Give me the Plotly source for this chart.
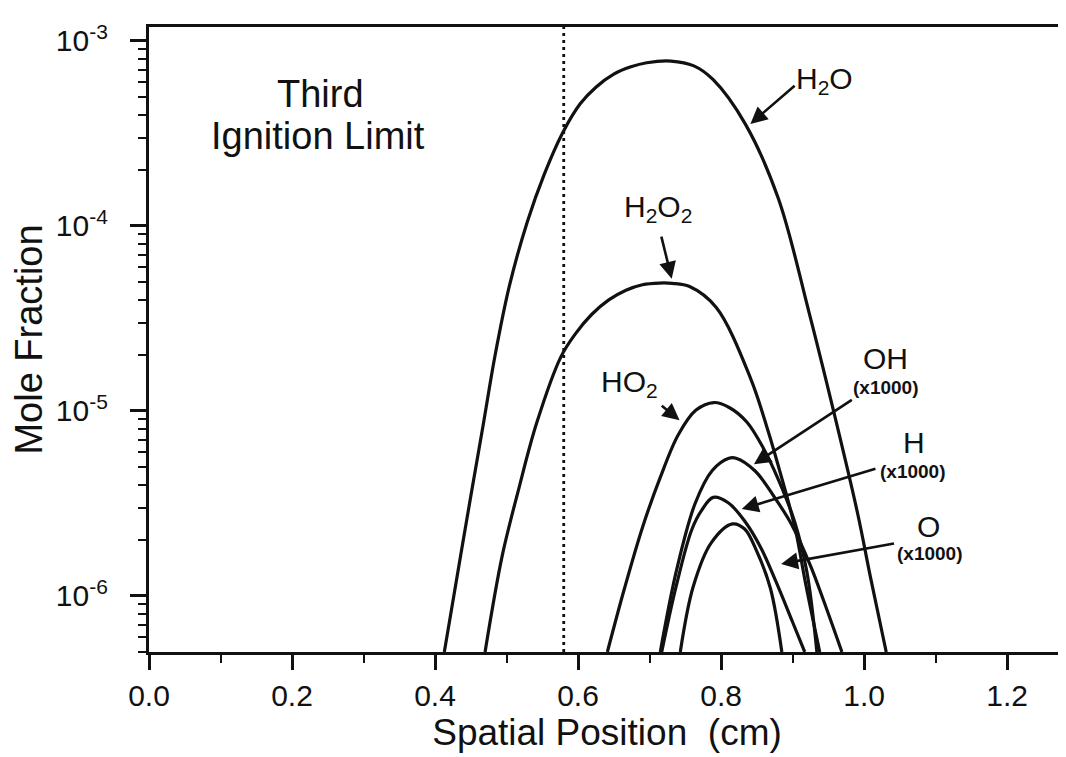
import plotly.graph_objects as go

# ---------------- data ----------------
h2o_x = [0.413, 0.436, 0.452, 0.468, 0.484, 0.504, 0.529, 0.553, 0.578, 0.603, 0.625, 0.650,
         0.674, 0.696, 0.730, 0.762, 0.789, 0.834, 0.880, 0.923, 0.958, 0.991, 1.009, 1.031]
h2o_y = [4.98e-7, 1.67e-6, 3.83e-6, 8.69e-6, 2.0e-5, 4.74e-5, 1.05e-4, 1.91e-4, 3.16e-4, 4.57e-4,
         5.62e-4, 6.61e-4, 7.24e-4, 7.62e-4, 7.78e-4, 7.33e-4, 6.17e-4, 3.55e-4, 1.41e-4, 3.41e-5,
         9.75e-6, 2.79e-6, 1.26e-6, 4.98e-7]

h2o2_x = [0.470, 0.494, 0.517, 0.542, 0.576, 0.596, 0.619, 0.643, 0.667, 0.690, 0.714, 0.732,
          0.756, 0.793, 0.841, 0.866, 0.881, 0.894, 0.905, 0.918, 0.938]
h2o2_y = [4.98e-7, 1.65e-6, 3.78e-6, 8.57e-6, 1.96e-5, 2.60e-5, 3.32e-5, 3.98e-5, 4.49e-5, 4.81e-5,
          4.91e-5, 4.89e-5, 4.70e-5, 3.63e-5, 1.51e-5, 7.74e-6, 4.90e-6, 3.24e-6, 2.19e-6, 1.18e-6,
          4.98e-7]

ho2_x = [0.641, 0.665, 0.690, 0.715, 0.740, 0.765, 0.790, 0.812, 0.836, 0.859, 0.880, 0.903,
         0.920, 0.934]
ho2_y = [4.98e-7, 1.10e-6, 2.34e-6, 4.37e-6, 7.41e-6, 1.01e-5, 1.11e-5, 1.04e-5, 8.71e-6, 6.31e-6,
         4.27e-6, 2.51e-6, 1.35e-6, 4.98e-7]

oh_x = [0.715, 0.738, 0.764, 0.788, 0.811, 0.821, 0.848, 0.876, 0.899, 0.925, 0.943, 0.969]
oh_y = [4.98e-7, 1.39e-6, 3.18e-6, 4.78e-6, 5.55e-6, 5.55e-6, 4.72e-6, 3.36e-6, 2.42e-6, 1.46e-6,
        9.53e-7, 4.98e-7]

h_x = [0.717, 0.737, 0.759, 0.773, 0.789, 0.810, 0.833, 0.856, 0.877, 0.900, 0.917]
h_y = [4.98e-7, 1.12e-6, 2.28e-6, 2.91e-6, 3.41e-6, 3.19e-6, 2.54e-6, 1.81e-6, 1.19e-6, 7.23e-7,
       4.98e-7]

o_x = [0.743, 0.761, 0.786, 0.816, 0.833, 0.850, 0.869, 0.885]
o_y = [4.98e-7, 1.12e-6, 1.93e-6, 2.45e-6, 2.30e-6, 1.74e-6, 1.10e-6, 4.98e-7]

ignition_limit_x = 0.58

x_tick_vals = [0.0, 0.2, 0.4, 0.6, 0.8, 1.0, 1.2]
x_tick_text = ["0.0", "0.2", "0.4", "0.6", "0.8", "1.0", "1.2"]
y_tick_vals = [1e-6, 1e-5, 1e-4, 1e-3]
y_tick_text = ["10<sup>-6</sup>", "10<sup>-5</sup>", "10<sup>-4</sup>", "10<sup>-3</sup>"]

# label texts with positions (x in cm, y as log10 of mole fraction)
labels = [
    ("Third", 0.240, -3.285, 38, False),
    ("Ignition Limit", 0.236, -3.515, 38, False),
    ("H<sub>2</sub>O", 0.945, -3.215, 30, False),
    ("H<sub>2</sub>O<sub>2</sub>", 0.712, -3.905, 30, False),
    ("HO<sub>2</sub>", 0.672, -4.850, 30, False),
    ("OH", 1.030, -4.715, 30, False),
    ("(x1000)", 1.031, -4.875, 19, True),
    ("H", 1.070, -5.170, 30, False),
    ("(x1000)", 1.069, -5.325, 19, True),
    ("O", 1.090, -5.625, 30, False),
    ("(x1000)", 1.092, -5.770, 19, True),
]
# arrows: (tail x, tail log y, head x, head log y)
arrows = [
    (0.905, -3.235, 0.841, -3.449),
    (0.716, -4.050, 0.731, -4.285),
    (0.715, -4.965, 0.742, -5.050),
    (0.985, -4.935, 0.846, -5.288),
    (1.018, -5.310, 0.829, -5.530),
    (1.044, -5.715, 0.884, -5.827),
]

FONT = "Liberation Sans, Arial, Helvetica, sans-serif"
INK = "#111111"

fig = go.Figure()
for name, xs, ys in [("H2O", h2o_x, h2o_y), ("H2O2", h2o2_x, h2o2_y), ("HO2", ho2_x, ho2_y),
                     ("OH", oh_x, oh_y), ("H", h_x, h_y), ("O", o_x, o_y)]:
    fig.add_trace(go.Scatter(x=xs, y=ys, mode="lines", name=name,
                             line=dict(color=INK, width=3.2, shape="spline", smoothing=1.0),
                             showlegend=False))

fig.add_vline(x=ignition_limit_x, line=dict(color=INK, width=2.8, dash="3px,4px"))

for text, x, y, size, bold in labels:
    fig.add_annotation(x=x, y=y, xref="x", yref="y", text=("<b>%s</b>" % text) if bold else text,
                       showarrow=False, xanchor="center", yanchor="middle",
                       font=dict(family=FONT, size=size, color=INK))

for tx, ty, hx, hy in arrows:
    fig.add_annotation(x=hx, y=hy, ax=tx, ay=ty, xref="x", yref="y", axref="x", ayref="y",
                       text="", showarrow=True, arrowhead=2, arrowsize=1.3, arrowwidth=2.6,
                       arrowcolor=INK, standoff=0, startstandoff=0)

fig.update_layout(
    width=1066, height=757,
    margin=dict(l=141, r=9, t=19, b=113, autoexpand=False),
    paper_bgcolor="white", plot_bgcolor="white",
    font=dict(family=FONT, color=INK),
    xaxis=dict(range=[0, 1.281], tickvals=x_tick_vals, ticktext=x_tick_text,
               ticks="outside", ticklen=15, tickwidth=2.6, tickcolor=INK,
               minor=dict(ticks="outside", dtick=0.1, tick0=0, ticklen=8, tickwidth=2.4,
                          tickcolor=INK, showgrid=False),
               showline=True, linewidth=3.2, linecolor=INK, mirror=True,
               showgrid=False, zeroline=False, automargin=False,
               tickfont=dict(size=30, family=FONT, color=INK),
               title=dict(text="Spatial Position  (cm)", standoff=0,
                          font=dict(size=37, family=FONT, color=INK))),
    yaxis=dict(type="log", range=[-6.303, -2.925], tickvals=y_tick_vals, ticktext=y_tick_text,
               ticks="outside", ticklen=16, tickwidth=2.6, tickcolor=INK,
               ticklabelstandoff=16,
               minor=dict(ticks="outside", ticklen=8, tickwidth=2.4, tickcolor=INK,
                          tickvals=[m * 10.0 ** e for e in range(-7, -2) for m in range(2, 10)],
                          showgrid=False),
               showline=True, linewidth=3.2, linecolor=INK, mirror=True,
               showgrid=False, zeroline=False, automargin=False,
               tickfont=dict(size=30, family=FONT, color=INK),
               title=dict(text="Mole Fraction", standoff=14,
                          font=dict(size=38, family=FONT, color=INK))),
)

fig.write_html("out.html")
